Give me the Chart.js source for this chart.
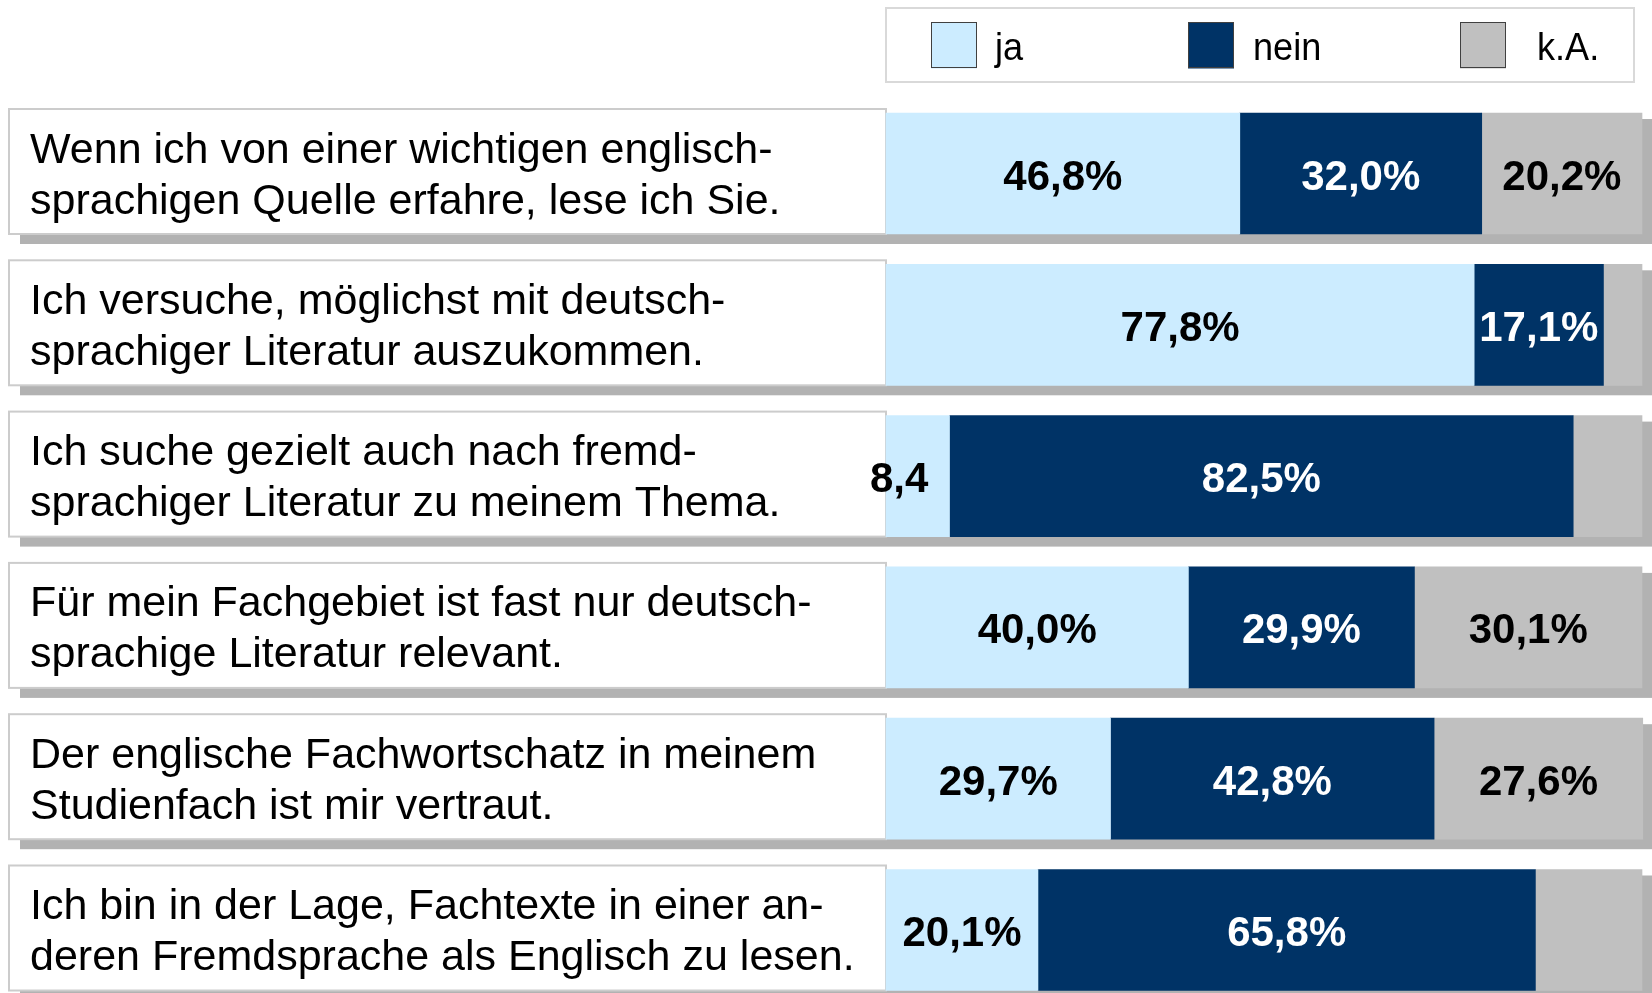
<!DOCTYPE html>
<html>
<head>
<meta charset="utf-8">
<script src="https://cdn.jsdelivr.net/npm/chart.js@4/dist/chart.umd.min.js"></script>
<style>
html,body{margin:0;padding:0;background:#fff;overflow:hidden;}
canvas{display:block;}
</style>
</head>
<body>
<canvas id="c" width="1652" height="993"></canvas>
<script>
const categories = [
  ["Wenn ich von einer wichtigen englisch-", "sprachigen Quelle erfahre, lese ich Sie."],
  ["Ich versuche, möglichst mit deutsch-", "sprachiger Literatur auszukommen."],
  ["Ich suche gezielt auch nach fremd-", "sprachiger Literatur zu meinem Thema."],
  ["Für mein Fachgebiet ist fast nur deutsch-", "sprachige Literatur relevant."],
  ["Der englische Fachwortschatz in meinem", "Studienfach ist mir vertraut."],
  ["Ich bin in der Lage, Fachtexte in einer an-", "deren Fremdsprache als Englisch zu lesen."]
];
const seriesNames = ["ja", "nein", "k.A."];
const jaValues   = [46.8, 77.8, 8.4, 40.0, 29.7, 20.1];
const neinValues = [32.0, 17.1, 82.5, 29.9, 42.8, 65.8];
const kaValues   = [21.2, 5.1, 9.1, 30.1, 27.6, 14.1];
const jaLabels   = ["46,8%", "77,8%", "8,4", "40,0%", "29,7%", "20,1%"];
const neinLabels = ["32,0%", "17,1%", "82,5%", "29,9%", "42,8%", "65,8%"];
const kaLabels   = ["20,2%", "", "", "30,1%", "27,6%", ""];

const colors = ["#CCECFF", "#003366", "#C0C0C0"];
const labelColors = ["#000000", "#FFFFFF", "#000000"];
const valueLabels = [jaLabels, neinLabels, kaLabels];

const BAR = 121;
const FONT = '"Liberation Sans", Arial, sans-serif';

const boxesPlugin = {
  id: 'boxes',
  beforeDatasetsDraw(chart) {
    const ctx = chart.ctx;
    const ys = chart.scales.y;
    const area = chart.chartArea;
    ctx.save();
    chart.data.labels.forEach((lines, i) => {
      const cy = ys.getPixelForTick(i);
      const barTop = cy - BAR / 2, barBot = cy + BAR / 2;
      const boxL = 9, boxT = barTop - 4, boxR = area.left;
      ctx.fillStyle = '#B2B2B2';
      ctx.fillRect(boxL + 11, boxT + 10, area.right - boxL, barBot - boxT);
      ctx.fillStyle = '#FFFFFF';
      ctx.fillRect(boxL, boxT, boxR - boxL, barBot - boxT);
      ctx.strokeStyle = '#CCCCCC';
      ctx.lineWidth = 2;
      ctx.strokeRect(boxL, boxT, boxR - boxL, barBot - boxT);
      ctx.fillStyle = '#000';
      ctx.font = '43px ' + FONT;
      ctx.textAlign = 'left';
      ctx.textBaseline = 'alphabetic';
      ctx.fillText(lines[0], 30, cy - 11);
      ctx.fillText(lines[1], 30, cy + 40);
    });
    ctx.restore();
  },
  afterDatasetsDraw(chart) {
    const ctx = chart.ctx;
    ctx.save();
    ctx.font = 'bold 42px ' + FONT;
    ctx.textBaseline = 'alphabetic';
    chart.data.datasets.forEach((ds, d) => {
      const meta = chart.getDatasetMeta(d);
      meta.data.forEach((bar, i) => {
        const txt = valueLabels[d][i];
        if (!txt) return;
        const p = bar.getProps(['x', 'y', 'base'], true);
        const cx = (p.x + p.base) / 2;
        ctx.fillStyle = labelColors[d];
        // position as a full "x%" label centred on the segment (the % is cut off when missing)
        const full = txt.endsWith('%') ? txt : txt + '%';
        const fw = ctx.measureText(full).width;
        ctx.textAlign = 'left';
        ctx.fillText(txt, cx - fw / 2, p.y + 16);
      });
    });
    // legend
    const lx = 886, ly = 8, lw = 748, lh = 74;
    ctx.strokeStyle = '#D9D9D9';
    ctx.lineWidth = 2;
    ctx.strokeRect(lx, ly, lw, lh);
    const swX = [931, 1188, 1460];
    const txX = [995, 1253, 1537];
    chart.data.datasets.forEach((ds, d) => {
      ctx.fillStyle = ds.backgroundColor;
      ctx.fillRect(swX[d], 22.5, 46, 46);
      ctx.strokeStyle = '#404040';
      ctx.lineWidth = 1;
      ctx.strokeRect(swX[d] + 0.5, 22.5, 45, 45);
      ctx.fillStyle = '#000';
      ctx.font = '38px ' + FONT;
      ctx.textAlign = 'left';
      ctx.save();
      ctx.translate(txX[d], 59.5);
      ctx.scale(0.95, 1);
      ctx.fillText(ds.label, 0, 0);
      ctx.restore();
    });
    ctx.restore();
  }
};

new Chart(document.getElementById('c'), {
  type: 'bar',
  data: {
    labels: categories,
    datasets: [
      { label: seriesNames[0], data: jaValues, backgroundColor: colors[0] },
      { label: seriesNames[1], data: neinValues, backgroundColor: colors[1] },
      { label: seriesNames[2], data: kaValues, backgroundColor: colors[2] }
    ]
  },
  options: {
    indexAxis: 'y',
    responsive: false,
    animation: false,
    datasets: { bar: { barThickness: BAR, borderWidth: 0, clip: false } },
    layout: { padding: { left: 886, right: 10, top: 173.5, bottom: 63 } },
    scales: {
      x: { stacked: true, min: 0, max: 100, display: false },
      y: { stacked: true, display: false, offset: false }
    },
    plugins: { legend: { display: false }, tooltip: { enabled: false } }
  },
  plugins: [boxesPlugin]
});
</script>
</body>
</html>
